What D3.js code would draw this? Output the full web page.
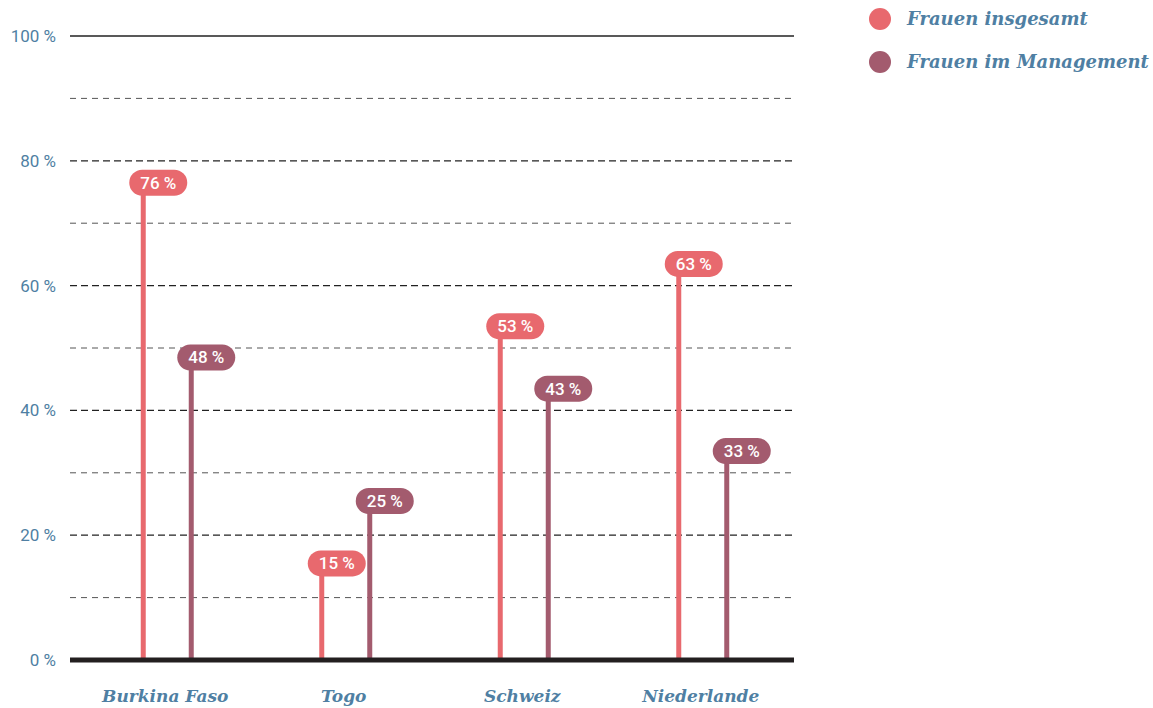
<!DOCTYPE html>
<html>
<head>
<meta charset="utf-8">
<script src="https://cdnjs.cloudflare.com/ajax/libs/d3/7.8.5/d3.min.js"></script>
<style>
  body { margin: 0; background: #fff; }
</style>
</head>
<body>
<script>
// Data
const countries = ["Burkina Faso", "Togo", "Schweiz", "Niederlande"];
const seriesNames = ["Frauen insgesamt", "Frauen im Management"];
const insgesamt = [76, 15, 53, 63];
const management = [48, 25, 43, 33];
const yTicks = [0, 20, 40, 60, 80, 100];
const minorTicks = [10, 30, 50, 70, 90];

const colors = ["#e8696e", "#a35b6e"];
const textBlue = "#4f7fa3";
const sansFont = "Roboto, 'DejaVu Sans', sans-serif";
const serifFont = "'DejaVu Serif', 'Liberation Serif', serif";

const width = 1153, height = 708;
const plotLeft = 70, plotRight = 794;

var svg = d3.select("body")
    .append("svg")
    .attr("width", width)
    .attr("height", height);

const y = d3.scaleLinear().domain([0, 100]).range([660, 36]);
const x = d3.scaleBand().domain(countries).range([78, 792]);
const sub = d3.scaleOrdinal().domain(seriesNames).range([-24, 24]);

// minor grid lines
svg.append("g").selectAll("line")
    .data(minorTicks)
    .enter().append("line")
    .attr("x1", plotLeft).attr("x2", plotRight)
    .attr("y1", d => y(d)).attr("y2", d => y(d))
    .attr("stroke", "#555")
    .attr("stroke-width", 1)
    .attr("stroke-dasharray", "6,5");

// major grid lines
svg.append("g").selectAll("line")
    .data(yTicks.filter(d => d > 0))
    .enter().append("line")
    .attr("x1", plotLeft).attr("x2", plotRight)
    .attr("y1", d => y(d)).attr("y2", d => y(d))
    .attr("stroke", "#222")
    .attr("stroke-width", 1.3)
    .attr("stroke-dasharray", d => d === 100 ? null : "7,4");

// y labels
svg.append("g").selectAll("text")
    .data(yTicks)
    .enter().append("text")
    .attr("x", 56)
    .attr("y", d => y(d) + 6)
    .attr("text-anchor", "end")
    .attr("fill", textBlue)
    .style("font-family", sansFont)
    .style("font-size", "17px")
    .text(d => d + " %");

// data rows
const rows = [];
countries.forEach((c, i) => {
    rows.push({country: c, series: seriesNames[0], value: insgesamt[i], color: colors[0]});
    rows.push({country: c, series: seriesNames[1], value: management[i], color: colors[1]});
});
const cx = d => x(d.country) + x.bandwidth() / 2 + sub(d.series);

// stems
svg.append("g").selectAll("line")
    .data(rows)
    .enter().append("line")
    .attr("x1", cx).attr("x2", cx)
    .attr("y1", y(0)).attr("y2", d => y(d.value))
    .attr("stroke", d => d.color)
    .attr("stroke-width", 5);

// baseline
svg.append("line")
    .attr("x1", plotLeft).attr("x2", plotRight)
    .attr("y1", y(0)).attr("y2", y(0))
    .attr("stroke", "#231f20")
    .attr("stroke-width", 5);

// value pills
const pill = svg.append("g").selectAll("g")
    .data(rows)
    .enter().append("g")
    .attr("transform", d => `translate(${cx(d) + 15},${y(d.value) - 3})`);

pill.append("rect")
    .attr("x", -29).attr("y", -13)
    .attr("width", 58).attr("height", 26)
    .attr("rx", 13)
    .attr("fill", d => d.color);

pill.append("text")
    .attr("text-anchor", "middle")
    .attr("y", 6)
    .attr("fill", "#fff")
    .style("font-family", sansFont)
    .style("font-size", "17px")
    .style("font-weight", "500")
    .text(d => d.value + " %");

// category labels
svg.append("g").selectAll("text")
    .data(countries)
    .enter().append("text")
    .attr("x", d => x(d) + x.bandwidth() / 2 - 2)
    .attr("y", 702)
    .attr("text-anchor", "middle")
    .attr("fill", textBlue)
    .style("font-family", serifFont)
    .style("font-style", "italic")
    .style("font-weight", "bold")
    .style("font-size", "17px")
    .text(d => d);

// legend
const legend = svg.append("g").selectAll("g")
    .data(seriesNames)
    .enter().append("g")
    .attr("transform", (d, i) => `translate(880,${19 + i * 43})`);

legend.append("circle")
    .attr("r", 11)
    .attr("fill", (d, i) => colors[i]);

legend.append("text")
    .attr("x", 27)
    .attr("y", 6)
    .attr("fill", textBlue)
    .style("font-family", serifFont)
    .style("font-style", "italic")
    .style("font-weight", "bold")
    .style("font-size", "18px")
    .text(d => d);
</script>
</body>
</html>
